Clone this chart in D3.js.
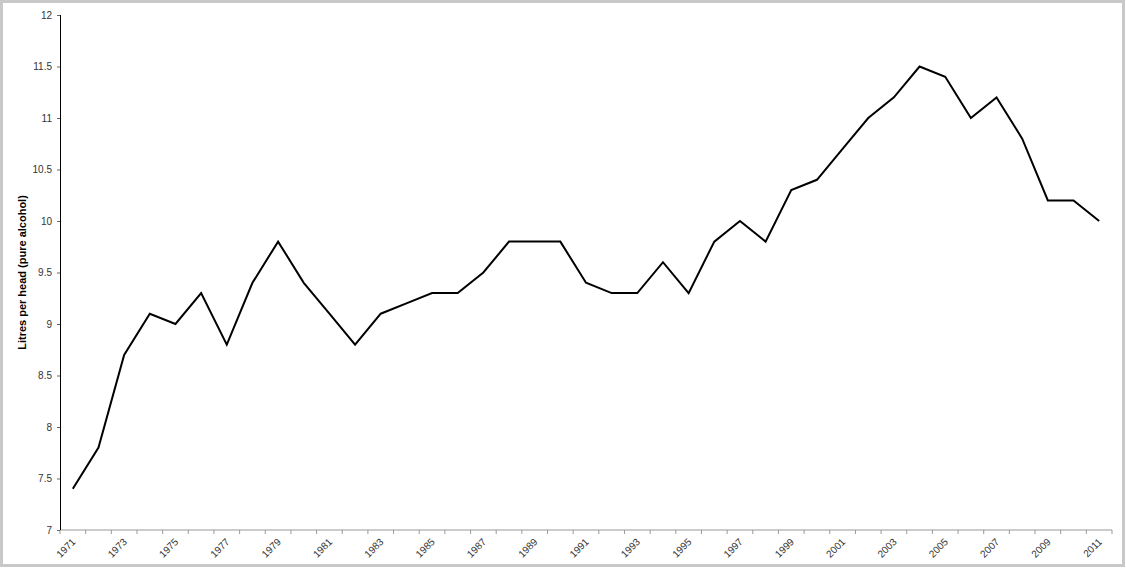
<!DOCTYPE html>
<html>
<head>
<meta charset="utf-8">
<script src="https://cdn.jsdelivr.net/npm/d3@7"></script>
<style>
  body { margin: 0; background: #fff; }
  .tick text { font-family: "Liberation Sans", Arial, sans-serif; font-size: 10px; fill: #333; }
  .label { font-family: "Liberation Sans", Arial, sans-serif; font-size: 11px; font-weight: bold; }
</style>
</head>
<body>
<svg id="chart"></svg>
<script>
var years = d3.range(1971, 2012);
var litres = [7.4, 7.8, 8.7, 9.1, 9.0, 9.3, 8.8, 9.4, 9.8, 9.4,
              9.1, 8.8, 9.1, 9.2, 9.3, 9.3, 9.5, 9.8, 9.8, 9.8,
              9.4, 9.3, 9.3, 9.6, 9.3, 9.8, 10.0, 9.8, 10.3, 10.4,
              10.7, 11.0, 11.2, 11.5, 11.4, 11.0, 11.2, 10.8, 10.2, 10.2,
              10.0];
var yTicks = [7, 7.5, 8, 8.5, 9, 9.5, 10, 10.5, 11, 11.5, 12];

var W = 1126, H = 568;
var margin = {top: 15, right: 14, bottom: 38, left: 60},
    width = W - margin.left - margin.right,
    height = H - margin.top - margin.bottom;

var svg = d3.select("#chart")
    .attr("width", W)
    .attr("height", H);

// outer frame
svg.append("rect")
    .attr("x", 1.5).attr("y", 1.5)
    .attr("width", W - 4).attr("height", H - 4)
    .attr("fill", "none")
    .attr("stroke", "#c8c8c8")
    .attr("stroke-width", 3);

var g = svg.append("g")
    .attr("transform", "translate(" + margin.left + "," + margin.top + ")");

var x = d3.scaleBand().domain(years).range([0, width]);
var y = d3.scaleLinear().domain([7, 12]).range([height, 0]);

// x axis: ticks at band edges, labels every other year
var xg = g.append("g")
    .attr("transform", "translate(0," + height + ")");
xg.append("line")
    .attr("x1", 0).attr("x2", width)
    .attr("stroke", "#999");
xg.selectAll(".xt")
    .data(years.concat([2012]))
  .enter().append("line")
    .attr("x1", function(d) { return d === 2012 ? width : x(d); })
    .attr("x2", function(d) { return d === 2012 ? width : x(d); })
    .attr("y1", 0).attr("y2", 4)
    .attr("stroke", "#999");
xg.selectAll(".tick")
    .data(years.filter(function(d) { return (d - 1971) % 2 === 0; }))
  .enter().append("g")
    .attr("class", "tick")
    .attr("transform", function(d) { return "translate(" + (x(d) + x.bandwidth() / 2 + 1) + ",10)"; })
  .append("text")
    .attr("text-anchor", "end")
    .attr("transform", "rotate(-45)")
    .attr("dy", "0.35em")
    .text(String);

// y axis
var yAxis = g.append("g")
    .call(d3.axisLeft(y).tickValues(yTicks).tickSize(3).tickPadding(5).tickFormat(d3.format("")));
yAxis.select(".domain").attr("stroke", "#000").attr("d", "M0.5,0V" + height);
yAxis.selectAll(".tick line").attr("stroke", "#666");

g.append("text")
    .attr("class", "label")
    .attr("transform", "rotate(-90)")
    .attr("x", -height / 2 + margin.top - 15)
    .attr("y", -34)
    .attr("text-anchor", "middle")
    .text("Litres per head (pure alcohol)");

var line = d3.line()
    .x(function(d, i) { return x(years[i]) + x.bandwidth() / 2; })
    .y(function(d) { return y(d); });

g.append("path")
    .datum(litres)
    .attr("fill", "none")
    .attr("stroke", "#000")
    .attr("stroke-width", 2)
    .attr("stroke-linejoin", "miter")
    .attr("d", line);
</script>
</body>
</html>
